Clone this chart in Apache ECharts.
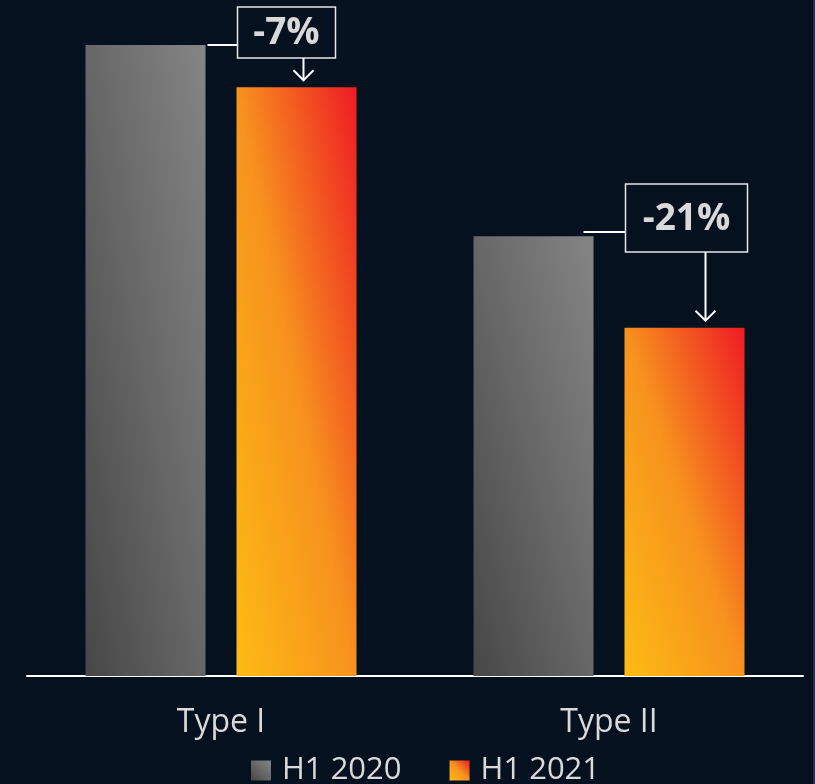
<!doctype html>
<html lang="en">
<head>
<meta charset="utf-8">
<title>H1 2020 vs H1 2021</title>
<script src="https://cdn.jsdelivr.net/npm/echarts@6/dist/echarts.min.js"></script>
<style>
  html, body { margin: 0; padding: 0; background: #06111f; }
  #wrap { width: 815px; height: 784px; box-sizing: border-box; border-right: 2px solid #1a3358; }
  #chart { width: 813px; height: 784px; }
</style>
</head>
<body>
<div id="wrap"><div id="chart"></div></div>
<script>
// data (relative units, Type I H1 2020 = 100)
var categories = ['Type I', 'Type II'];
var seriesNames = ['H1 2020', 'H1 2021'];
var h12020 = [100, 69.7];
var h12021 = [93.3, 55.2];
var changeLabels = ['-7%', '-21%'];

var chart = echarts.init(document.getElementById('chart'));
var FONT = '"Open Sans", "Noto Sans", sans-serif';
var TXT = '#d9d9d9';
var BAR_W = 120, GAP = 31;

var grayStops = [
  { offset: 0, color: '#474747' },
  { offset: 0.5, color: '#676767' },
  { offset: 1, color: '#858585' }
];
var hotStops = [
  { offset: 0, color: '#fdbb14' },
  { offset: 0.5, color: '#f7921e' },
  { offset: 1, color: '#ee1b24' }
];

// diagonal gradient like a bounding-box one: bottom-left -> top-right,
// with the mid colour running along the other diagonal
function diagGrad(w, h, stops) {
  var L2 = w * w + h * h;
  var dx = h * h / L2, dy = w * w / L2;
  return new echarts.graphic.LinearGradient(0.5 - dx, 0.5 + dy, 0.5 + dx, 0.5 - dy, stops);
}

var option = {
  backgroundColor: '#06111f',
  animation: false,
  grid: { left: 27, right: 10, top: 45, bottom: 108 },
  legend: {
    left: 251, top: 755, padding: 0,
    itemWidth: 20, itemHeight: 20, itemGap: 48,
    icon: 'rect',
    textStyle: { color: TXT, fontSize: 31, fontFamily: FONT, padding: [0, 0, 0, 6] },
    data: seriesNames
  },
  xAxis: {
    type: 'category',
    data: categories,
    axisLine: { lineStyle: { color: '#ffffff', width: 2 } },
    axisTick: { show: false },
    axisLabel: { color: TXT, fontSize: 32, fontFamily: FONT, margin: 31 }
  },
  yAxis: {
    type: 'value', min: 0, max: 100,
    show: false, splitLine: { show: false }
  },
  series: [
    { name: seriesNames[0], type: 'bar', data: h12020, barWidth: BAR_W, barGap: (GAP / BAR_W * 100) + '%',
      itemStyle: { color: diagGrad(1, 1, grayStops) } },
    { name: seriesNames[1], type: 'bar', data: h12021, barWidth: BAR_W,
      itemStyle: { color: diagGrad(1, 1, hotStops) } }
  ]
};
chart.setOption(option);

var baseY = chart.convertToPixel({ yAxisIndex: 0 }, 0);
function barItems(vals, stops) {
  return vals.map(function (v) {
    var h = baseY - chart.convertToPixel({ yAxisIndex: 0 }, v);
    return { value: v, itemStyle: { color: diagGrad(BAR_W, h, stops) } };
  });
}

// annotation boxes, placed from the bar positions
var boxW = [98, 122], boxH = [51, 68], boxTop = [7, 184], arrowDx = [66, 80], lineDx = [2, -10];
var graphics = [];
var half = (BAR_W + GAP) / 2;
for (var i = 0; i < categories.length; i++) {
  var cx = chart.convertToPixel({ xAxisIndex: 0 }, categories[i]);
  var top0 = chart.convertToPixel({ yAxisIndex: 0 }, h12020[i]);
  var top1 = chart.convertToPixel({ yAxisIndex: 0 }, h12021[i]);
  var bar0Right = cx - half + BAR_W / 2, bar1Left = cx + half - BAR_W / 2;
  var bx = bar1Left + 1, by = boxTop[i];
  var lineY = i === 0 ? top0 : by + 48;
  var ax = bx + arrowDx[i], tipY = top1 - 7;
  graphics.push(
    { type: 'line', shape: { x1: bar0Right + lineDx[i], y1: lineY, x2: bx, y2: lineY },
      style: { stroke: '#ffffff', lineWidth: 2 } },
    { type: 'rect', shape: { x: bx, y: by, width: boxW[i], height: boxH[i] },
      style: { fill: '#06111f', stroke: '#e6e6e6', lineWidth: 1.5 } },
    { type: 'text', x: bx + boxW[i] / 2, y: by + boxH[i] / 2 + 1,
      style: { text: changeLabels[i], fill: TXT, font: 'bold 37px ' + FONT,
               align: 'center', verticalAlign: 'middle' } },
    { type: 'line', shape: { x1: ax, y1: by + boxH[i], x2: ax, y2: tipY },
      style: { stroke: '#ffffff', lineWidth: 2 } },
    { type: 'polyline', shape: { points: [[ax - 10, tipY - 10], [ax, tipY], [ax + 10, tipY - 10]] },
      style: { stroke: '#ffffff', lineWidth: 2, fill: null } }
  );
}
chart.setOption({
  series: [{ data: barItems(h12020, grayStops) }, { data: barItems(h12021, hotStops) }],
  graphic: graphics
});
</script>
</body>
</html>
